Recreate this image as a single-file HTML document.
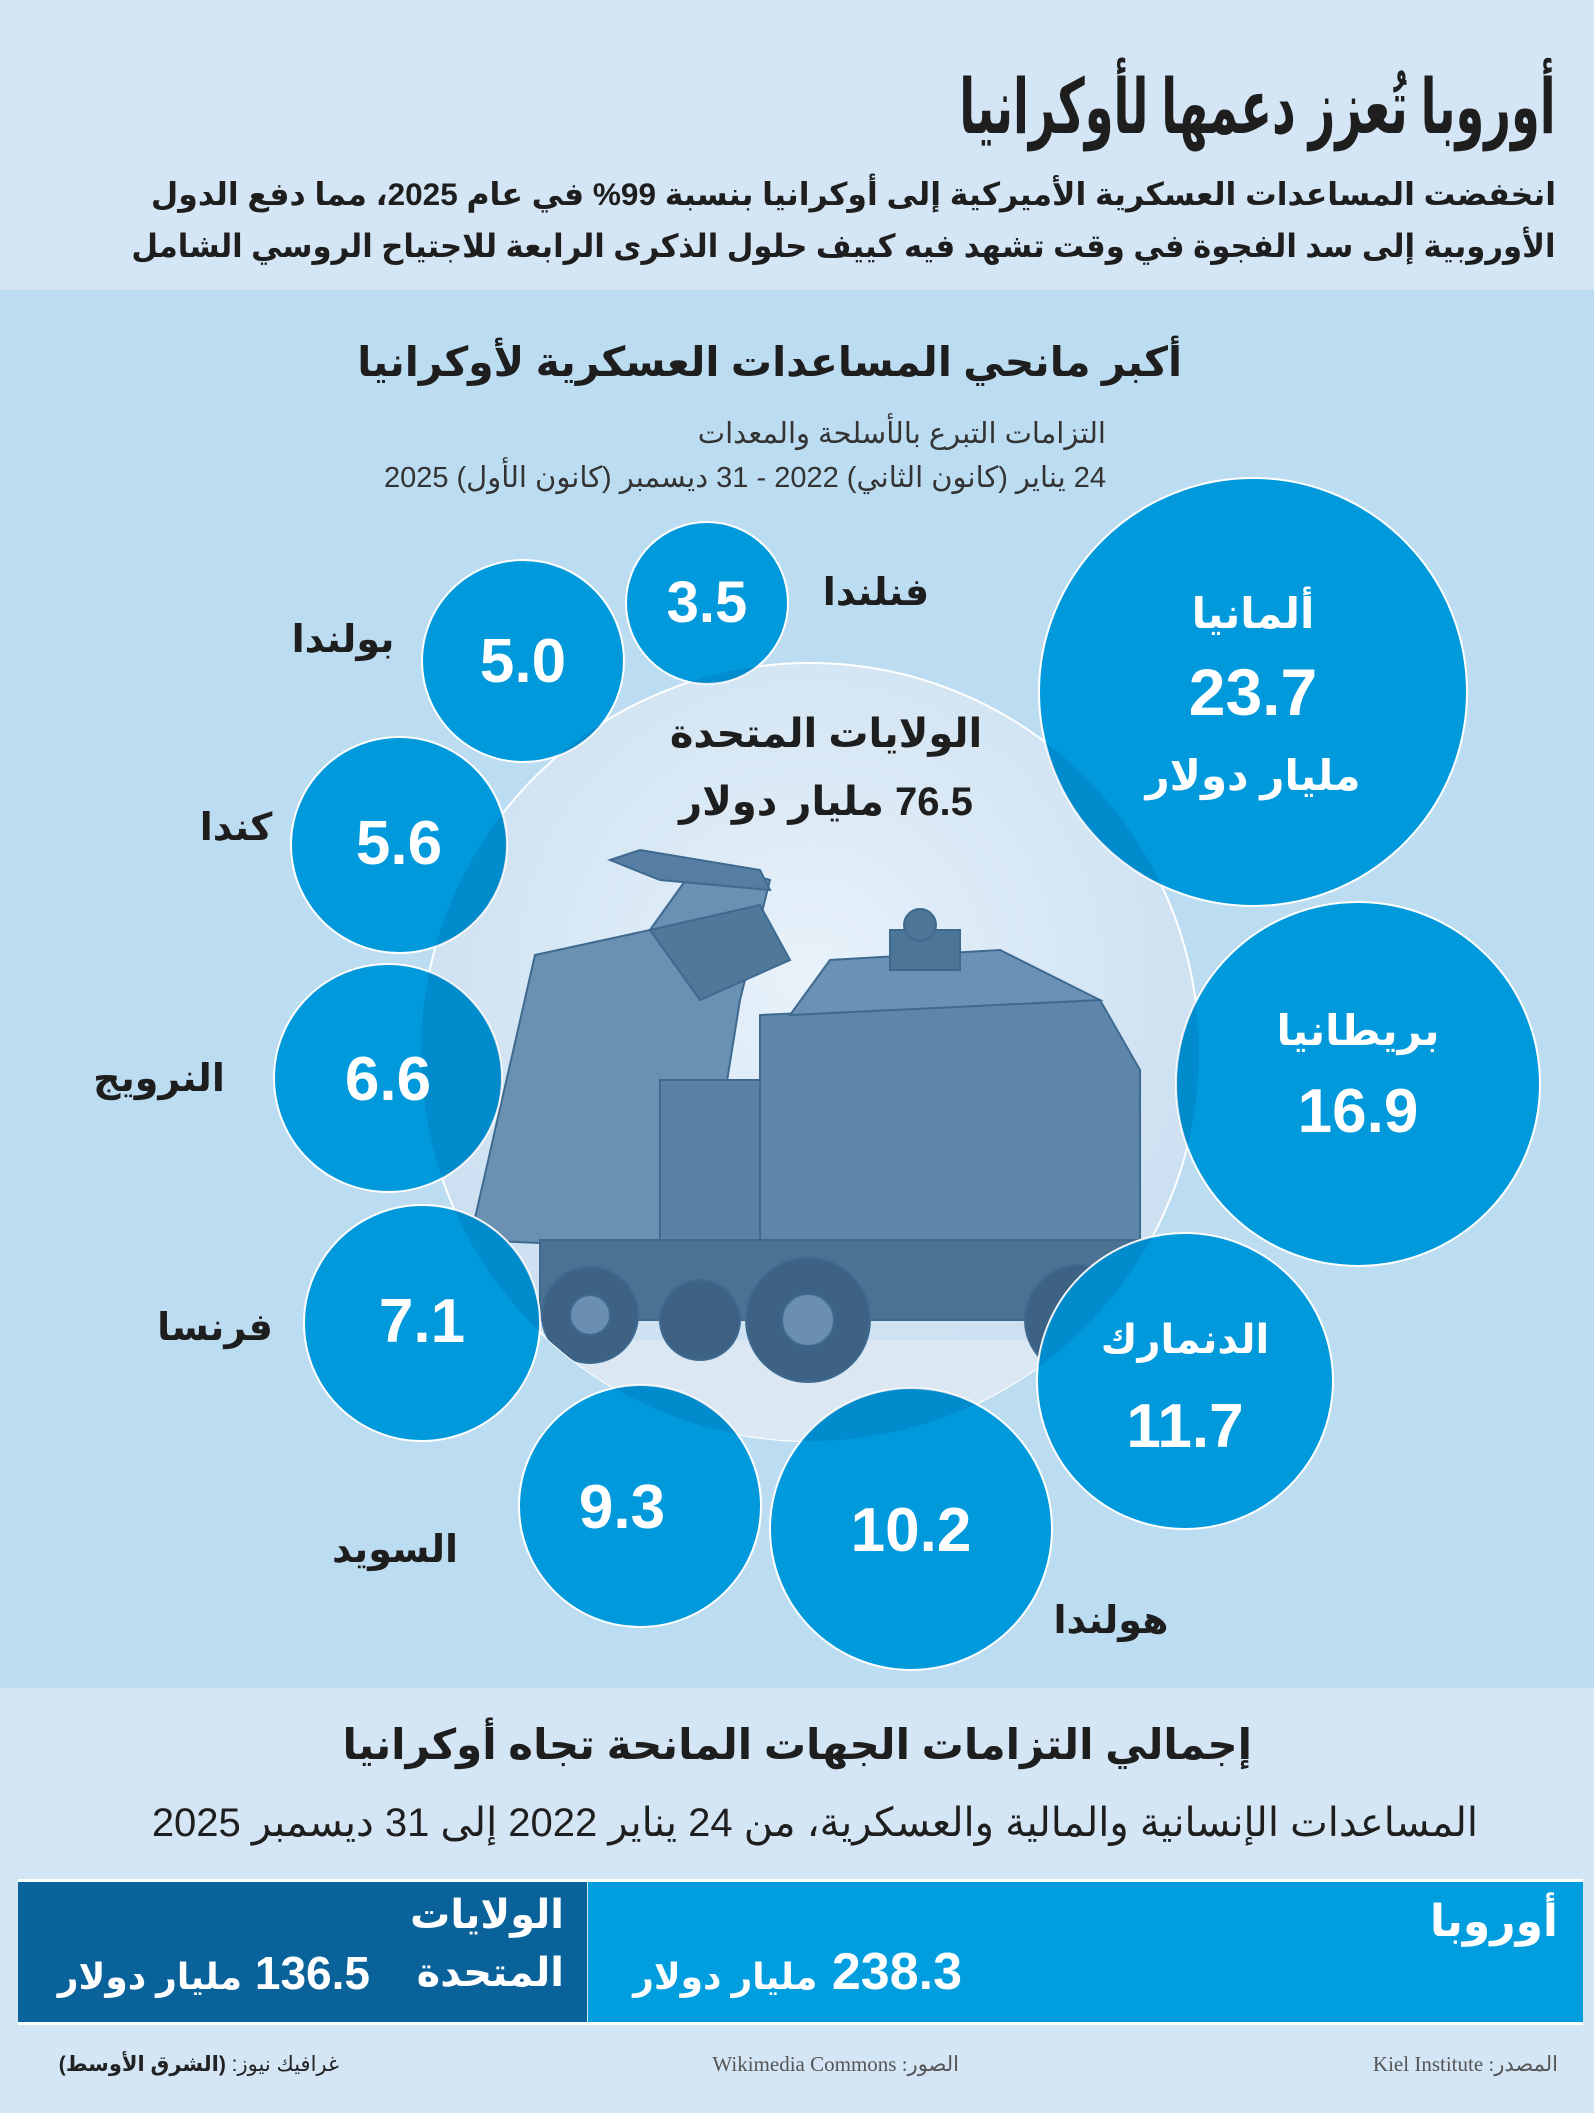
<!DOCTYPE html>
<html><head><meta charset="utf-8">
<style>
html,body{margin:0;padding:0}
body{width:1594px;height:2113px;position:relative;background:#d4e6f5;overflow:hidden;font-family:"Liberation Sans","Noto Sans CJK SC","DejaVu Sans",sans-serif}
.t{position:absolute;white-space:nowrap;direction:rtl;color:#1e1e1e}
</style></head><body>
<div style="position:absolute;left:0;top:290px;width:1594px;height:1398px;background:#bcdcf2"></div>

<div class="t" style="right:38px;top:62px;font-size:76px;font-weight:bold;letter-spacing:-1px;transform:scaleX(0.61);transform-origin:right center">أوروبا تُعزز دعمها لأوكرانيا</div>
<div class="t" style="right:38px;top:176px;font-size:31.5px;font-weight:bold">انخفضت المساعدات العسكرية الأميركية إلى أوكرانيا بنسبة 99% في عام 2025، مما دفع الدول</div>
<div class="t" style="right:38px;top:227px;font-size:32px;font-weight:bold;transform:scaleX(0.96);transform-origin:right center">الأوروبية إلى سد الفجوة في وقت تشهد فيه كييف حلول الذكرى الرابعة للاجتياح الروسي الشامل</div>

<div class="t" style="right:412px;top:338px;font-size:41px;font-weight:bold">أكبر مانحي المساعدات العسكرية لأوكرانيا</div>
<div class="t" style="right:488px;top:416px;font-size:29px;color:#333;letter-spacing:1px">التزامات التبرع بالأسلحة والمعدات</div>
<div class="t" style="right:488px;top:460px;font-size:29px;color:#333;letter-spacing:1.5px">24 يناير (كانون الثاني) 2022 - 31 ديسمبر (كانون الأول) 2025</div>

<svg style="position:absolute;left:0;top:0" width="1594" height="1700" viewBox="0 0 1594 1700">
<defs>
<clipPath id="us"><circle cx="810" cy="1052" r="389"/></clipPath>
<radialGradient id="sky" cx="50%" cy="40%" r="60%"><stop offset="0" stop-color="#e8f2fa"/><stop offset="1" stop-color="#c9def0"/></radialGradient>
</defs>
<circle cx="810" cy="1052" r="389" fill="url(#sky)" stroke="#fff" stroke-width="2"/>
<g clip-path="url(#us)" fill="#5b84a8" stroke="#3f6a90" stroke-width="2">
<rect x="430" y="1340" width="800" height="120" fill="#dbe8f3" stroke="none"/>
<polygon points="470,1240 535,955 650,930 700,860 770,880 740,1000 700,1250" fill="#6a90b2"/>
<polygon points="610,860 640,850 760,870 770,890 660,880" fill="#567ea3"/>
<polygon points="650,930 760,905 790,960 700,1000" fill="#4f7899"/>
<rect x="660" y="1080" width="150" height="180" fill="#5a82a6"/>
<polygon points="760,1015 1100,1000 1140,1070 1140,1250 760,1260" fill="#5d86aa"/>
<polygon points="790,1015 830,960 1000,950 1100,1000" fill="#6b92b4"/>
<rect x="890" y="930" width="70" height="40" fill="#4d7596"/>
<circle cx="920" cy="925" r="16" fill="#4d7596"/>
<rect x="540" y="1240" width="600" height="80" fill="#4b7293"/>
<circle cx="590" cy="1315" r="48" fill="#3d6283"/>
<circle cx="590" cy="1315" r="20" fill="#6b8fb0"/>
<circle cx="808" cy="1320" r="62" fill="#3d6283"/>
<circle cx="808" cy="1320" r="26" fill="#6b8fb0"/>
<circle cx="1080" cy="1320" r="55" fill="#3d6283"/>
<circle cx="700" cy="1320" r="40" fill="#3d6283"/>
</g>
<g fill="#0099dc" stroke="#fff" stroke-width="2">
<circle cx="1253" cy="692" r="214"/>
<circle cx="1358" cy="1084" r="182"/>
<circle cx="1185" cy="1381" r="148"/>
<circle cx="911" cy="1529" r="141"/>
<circle cx="640" cy="1506" r="121"/>
<circle cx="422" cy="1323" r="118"/>
<circle cx="388" cy="1078" r="114"/>
<circle cx="399" cy="845" r="108"/>
<circle cx="523" cy="661" r="101"/>
<circle cx="707" cy="603" r="81"/>
</g>
<g clip-path="url(#us)" fill="rgba(0,50,100,0.13)">
<circle cx="1253" cy="692" r="214"/>
<circle cx="1358" cy="1084" r="182"/>
<circle cx="1185" cy="1381" r="148"/>
<circle cx="911" cy="1529" r="141"/>
<circle cx="640" cy="1506" r="121"/>
<circle cx="422" cy="1323" r="118"/>
<circle cx="388" cy="1078" r="114"/>
<circle cx="399" cy="845" r="108"/>
<circle cx="523" cy="661" r="101"/>
<circle cx="707" cy="603" r="81"/>
</g>
<g font-family="Liberation Sans, DejaVu Sans, sans-serif" font-weight="bold" text-anchor="middle" fill="#fff">
<text x="1253" y="628" font-size="42" direction="rtl">ألمانيا</text>
<text x="1253" y="715" font-size="66">23.7</text>
<text x="1253" y="790" font-size="42" direction="rtl">مليار دولار</text>
<text x="1358" y="1045" font-size="42" direction="rtl">بريطانيا</text>
<text x="1358" y="1132" font-size="62">16.9</text>
<text x="1185" y="1353" font-size="40" direction="rtl">الدنمارك</text>
<text x="1185" y="1447" font-size="62">11.7</text>
<text x="911" y="1551" font-size="62">10.2</text>
<text x="622" y="1528" font-size="62">9.3</text>
<text x="422" y="1342" font-size="62">7.1</text>
<text x="388" y="1100" font-size="62">6.6</text>
<text x="399" y="864" font-size="62">5.6</text>
<text x="523" y="682" font-size="62">5.0</text>
<text x="707" y="622" font-size="58">3.5</text>
</g>
<g font-family="Liberation Sans, DejaVu Sans, sans-serif" font-weight="bold" text-anchor="middle" fill="#1e1e1e" font-size="38">
<text x="1111" y="1633" direction="rtl">هولندا</text>
<text x="395" y="1562" direction="rtl">السويد</text>
<text x="215" y="1340" direction="rtl">فرنسا</text>
<text x="159" y="1091" direction="rtl">النرويج</text>
<text x="236" y="840" direction="rtl">كندا</text>
<text x="343" y="652" direction="rtl">بولندا</text>
<text x="876" y="605" direction="rtl">فنلندا</text>
<text x="826" y="747" font-size="40" direction="rtl">الولايات المتحدة</text>
<text x="826" y="815" font-size="40" direction="rtl">76.5 مليار دولار</text>
</g>
</svg>

<div class="t" style="right:342px;top:1720px;font-size:42px;font-weight:bold">إجمالي التزامات الجهات المانحة تجاه أوكرانيا</div>
<div class="t" style="right:116px;top:1800px;font-size:40px;letter-spacing:0.5px">المساعدات الإنسانية والمالية والعسكرية، من 24 يناير 2022 إلى 31 ديسمبر 2025</div>

<div style="position:absolute;left:18px;top:1879px;width:1565px;height:146px;border-top:3px solid #fff;border-bottom:3px solid #fff;box-sizing:border-box"></div>
<div style="position:absolute;left:18px;top:1882px;width:569px;height:140px;background:#0a629a"></div>
<div style="position:absolute;left:588px;top:1882px;width:995px;height:140px;background:#009ddf"></div>
<div class="t" style="right:36px;top:1896px;font-size:44px;font-weight:bold;color:#fff">أوروبا</div>
<div class="t" style="right:632px;top:1942px;font-size:52px;font-weight:bold;color:#fff">238.3 <span style="font-size:36px">مليار دولار</span></div>
<div class="t" style="right:1030px;top:1892px;font-size:40px;font-weight:bold;color:#fff">الولايات</div>
<div class="t" style="right:1030px;top:1950px;font-size:40px;font-weight:bold;color:#fff">المتحدة</div>
<div class="t" style="right:1224px;top:1946px;font-size:46px;font-weight:bold;color:#fff">136.5 <span style="font-size:36px">مليار دولار</span></div>

<div class="t" style="right:36px;top:2052px;font-size:21px;color:#555;font-family:'Liberation Serif',serif">المصدر: Kiel Institute</div>
<div class="t" style="right:635px;top:2052px;font-size:21px;color:#555;font-family:'Liberation Serif',serif">الصور: Wikimedia Commons</div>
<div class="t" style="right:1255px;top:2052px;font-size:21px;color:#222">غرافيك نيوز: <b>(الشرق الأوسط)</b></div>
</body></html>
